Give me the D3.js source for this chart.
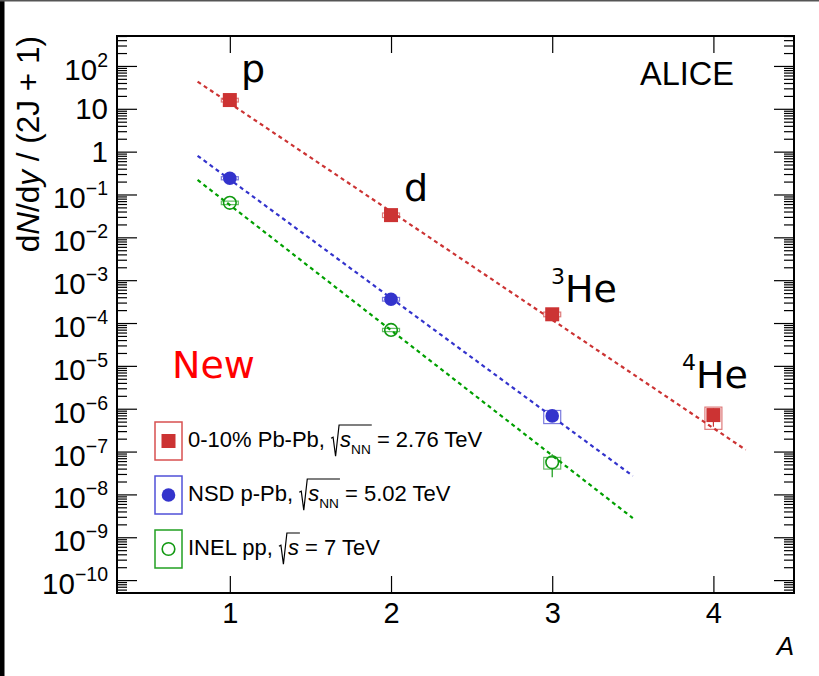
<!DOCTYPE html>
<html>
<head>
<meta charset="utf-8">
<script src="https://cdn.jsdelivr.net/npm/d3@7"></script>
<style>
  body { margin: 0; background: #fff; }
  svg { display: block; }
  text { white-space: pre; }
</style>
</head>
<body>
<div id="chart"></div>
<script>
// mass number on x
var massNumbers = [1, 2, 3, 4];

// 0-10% Pb-Pb 2.76 TeV: p, d, 3He, 4He
var pbpbYield = [16, 0.033, 1.6e-4, 7.1e-7];
var pbpbStat  = [0.15, 0.0006, 0.08e-4, 3.3e-7];
var pbpbSyst  = [1.6, 0.004, 0.2e-4, 3.8e-7];

// NSD p-Pb 5.02 TeV: p, d, 3He
var ppbYield = [0.24, 3.6e-4, 6.8e-7];
var ppbStat  = [0.004, 0.1e-4, 0.6e-7];
var ppbSyst  = [0.02, 0.35e-4, 2.3e-7];

// INEL pp 7 TeV: p, d, 3He
var ppYield = [0.064, 6.9e-5, 5.6e-8];
var ppStat  = [0.001, 0.2e-5, 3.1e-8];
var ppSyst  = [0.006, 0.6e-5, 1.7e-8];

// exponential fits (end points)
var pbpbFitA = [0.8, 4.2],  pbpbFitY = [43, 1.1e-7];
var ppbFitA  = [0.8, 3.5],  ppbFitY  = [0.80, 2.7e-8];
var ppFitA   = [0.8, 3.5],  ppFitY   = [0.218, 2.8e-9];

var particleNames = ["p", "d", "He", "He"];
var particleSup   = ["", "", "3", "4"];

var legendLabels = [
  [{t: "0-10% Pb-Pb, "}, {rad: true}, {t: "s", it: true}, {t: "NN", sub: true}, {radEnd: true}, {t: " = 2.76 TeV"}],
  [{t: "NSD p-Pb, "}, {rad: true}, {t: "s", it: true}, {t: "NN", sub: true}, {radEnd: true}, {t: " = 5.02 TeV"}],
  [{t: "INEL pp, "}, {rad: true}, {t: "s", it: true}, {radEnd: true}, {t: " = 7 TeV"}]
];

var yMajor = d3.range(-10, 3).map(function (k) { return Math.pow(10, k); });
var xTicks = [1, 2, 3, 4];

var red = "#cc3333", blue = "#3333cc", green = "#119911";

var W = 819, H = 676;
var svg = d3.select("#chart").append("svg").attr("width", W).attr("height", H);
svg.append("rect").attr("width", W).attr("height", H).attr("fill", "#fff");
// frame of the screenshot
svg.append("rect").attr("x", 0).attr("y", 0).attr("width", 4.5).attr("height", H).attr("fill", "#000");
svg.append("rect").attr("x", 0).attr("y", 0).attr("width", W).attr("height", 1.5).attr("fill", "#555");

var padL = 117, padR = 794, padT = 36, padB = 593;
var x = d3.scaleLinear().domain([0.3, 4.5]).range([padL, padR]);
var y = d3.scaleLog().domain([5e-11, 500]).range([padB, padT]);

var yMinor = [];
for (var k = -11; k <= 2; k++) {
  for (var m = 2; m <= 9; m++) {
    var v = m * Math.pow(10, k);
    if (v >= 5e-11 && v <= 500) yMinor.push(v);
  }
}

// text helper: runs of text with italics, sub/superscripts and a drawn radical
function richText(parent, x0, y0, segs, opt) {
  opt = opt || {};
  var size = opt.size || 22;
  var g = parent.append("g")
    .attr("font-family", opt.family || "'Liberation Sans', Arial, sans-serif")
    .attr("fill", opt.fill || "#000");
  var cx = 0, radStart = null, rads = [];
  segs.forEach(function (s) {
    if (s.rad) { radStart = cx; cx += 9; return; }
    if (s.radEnd) { rads.push([radStart, cx + 1]); return; }
    var fs = s.size || (s.sub || s.sup ? size * 0.62 : size);
    var dy = s.dy != null ? s.dy : (s.sub ? size * 0.3 : 0);
    var t = g.append("text").attr("x", cx).attr("y", dy)
      .attr("font-size", fs).text(s.t);
    if (s.it) t.attr("font-style", "italic");
    cx += t.node().getComputedTextLength();
  });
  rads.forEach(function (r) {
    var a = r[0], h = size * 1.0;
    g.append("path")
      .attr("d", "M" + (a) + "," + (-size * 0.4) + " L" + (a + 2) + "," + (-size * 0.45) +
        " L" + (a + 4.5) + "," + (size * 0.42) + " L" + (a + 8) + "," + (-h) + " L" + r[1] + "," + (-h))
      .attr("fill", "none").attr("stroke", opt.fill || "#000").attr("stroke-width", 1.2);
  });
  var shift = opt.anchor === "end" ? -cx : opt.anchor === "middle" ? -cx / 2 : 0;
  g.attr("transform", "translate(" + (x0 + shift) + "," + y0 + ")");
  return g;
}

// axes (ticks pointing inward)
svg.append("g").attr("transform", "translate(" + padL + ",0)")
  .call(d3.axisLeft(y).tickValues(yMajor).tickSize(-20).tickSizeOuter(0).tickFormat(""));
svg.append("g").attr("transform", "translate(" + padL + ",0)")
  .call(d3.axisLeft(y).tickValues(yMinor).tickSize(-10).tickSizeOuter(0).tickFormat(""));
svg.append("g").attr("transform", "translate(" + padR + ",0)")
  .call(d3.axisRight(y).tickValues(yMajor).tickSize(-20).tickSizeOuter(0).tickFormat(""));
svg.append("g").attr("transform", "translate(" + padR + ",0)")
  .call(d3.axisRight(y).tickValues(yMinor).tickSize(-10).tickSizeOuter(0).tickFormat(""));
svg.append("g").attr("transform", "translate(0," + padT + ")")
  .call(d3.axisTop(x).tickValues(xTicks).tickSize(-17).tickSizeOuter(0).tickFormat(""));
var xAxis = svg.append("g").attr("transform", "translate(0," + padB + ")")
  .call(d3.axisBottom(x).tickValues(xTicks).tickSize(-17).tickSizeOuter(0).tickPadding(9).tickFormat(d3.format("d")));
xAxis.selectAll("text").attr("font-size", 29).attr("font-family", "'Liberation Sans', Arial, sans-serif").attr("fill", "#000");
svg.selectAll(".domain").remove();
svg.selectAll(".tick line").attr("stroke", "#000").attr("stroke-width", 1.2);

svg.append("rect").attr("x", padL).attr("y", padT).attr("width", padR - padL).attr("height", padB - padT)
  .attr("fill", "none").attr("stroke", "#000").attr("stroke-width", 2);

// y tick labels
yMajor.forEach(function (v) {
  var k = Math.round(Math.log10(v));
  var yy = y(v);
  if (k === 0 || k === 1) {
    richText(svg, 108, yy + 10.5, [{t: k === 0 ? "1" : "10"}], {size: 29.5, anchor: "end"});
  } else {
    richText(svg, 108, yy + 14, [{t: "10"}, {t: (k < 0 ? "\u2212" : "") + Math.abs(k), size: 19.5, dy: -13}], {size: 29.5, anchor: "end"});
  }
});

// axis titles
var yTitle = svg.append("text")
  .attr("transform", "translate(39," + padT + ") rotate(-90)")
  .attr("text-anchor", "end")
  .attr("font-family", "'Liberation Sans', Arial, sans-serif")
  .attr("font-size", 31.5);
yTitle.append("tspan").text("d");
yTitle.append("tspan").attr("font-style", "italic").text("N");
yTitle.append("tspan").text("/d");
yTitle.append("tspan").attr("font-style", "italic").text("y");
yTitle.append("tspan").text(" / (2J + 1)");

svg.append("text").attr("x", padR).attr("y", 655).attr("text-anchor", "end")
  .attr("font-family", "'Liberation Sans', Arial, sans-serif").attr("font-size", 26)
  .attr("font-style", "italic").text("A");

svg.append("text").attr("x", 640).attr("y", 85)
  .attr("font-family", "'Liberation Sans', Arial, sans-serif").attr("font-size", 32.5).text("ALICE");

svg.append("text").attr("x", 172).attr("y", 378).attr("fill", "#ff0000")
  .attr("font-family", "'DejaVu Sans', sans-serif").attr("font-size", 38).text("New");

// particle labels
var labelPos = [[241, 82], [404, 201], [551, 302], [682, 388]];
particleNames.forEach(function (n, i) {
  var segs = [];
  if (particleSup[i]) segs.push({t: particleSup[i], size: 22, dy: -18});
  segs.push({t: n});
  richText(svg, labelPos[i][0], labelPos[i][1], segs, {size: 38, family: "'DejaVu Sans', sans-serif"});
});

// fit lines
var line = d3.line().x(function (d) { return x(d[0]); }).y(function (d) { return y(d[1]); });
[[pbpbFitA, pbpbFitY, red], [ppbFitA, ppbFitY, blue], [ppFitA, ppFitY, "#00a000"]].forEach(function (f) {
  svg.append("path").attr("d", line(d3.zip(f[0], f[1])))
    .attr("fill", "none").attr("stroke", f[2]).attr("stroke-width", 2.2).attr("stroke-dasharray", "4,3.5");
});

// data points
function drawSeries(vals, stat, syst, color, marker) {
  var g = svg.append("g");
  var pts = vals.map(function (v, i) { return {a: massNumbers[i], v: v, st: stat[i], sy: syst[i]}; });
  g.selectAll("rect.sys").data(pts).enter().append("rect")
    .attr("x", function (d) { return x(d.a) - 8.5; })
    .attr("y", function (d) { return y(d.v + d.sy); })
    .attr("width", 17)
    .attr("height", function (d) { return y(d.v - d.sy) - y(d.v + d.sy); })
    .attr("fill", "none").attr("stroke", color).attr("stroke-opacity", 0.65).attr("stroke-width", 1.2);
  pts.forEach(function (d) {
    var cy = y(d.v), up = y(d.v + d.st), dn = y(d.v - d.st);
    if (cy - up > 6.5) g.append("line").attr("x1", x(d.a)).attr("x2", x(d.a)).attr("y1", up).attr("y2", cy - 6.5)
      .attr("stroke", color).attr("stroke-width", 1.2);
    if (dn - cy > 6.5) g.append("line").attr("x1", x(d.a)).attr("x2", x(d.a)).attr("y1", cy + 6.5).attr("y2", dn)
      .attr("stroke", color).attr("stroke-width", 1.2);
  });
  pts.forEach(function (d) { marker(g, x(d.a), y(d.v)); });
}
function square(color) {
  return function (g, cx, cy) {
    g.append("rect").attr("x", cx - 7).attr("y", cy - 7).attr("width", 14).attr("height", 14).attr("fill", color);
  };
}
function disc(color) {
  return function (g, cx, cy) { g.append("circle").attr("cx", cx).attr("cy", cy).attr("r", 6.8).attr("fill", color); };
}
function ring(color) {
  return function (g, cx, cy) {
    g.append("circle").attr("cx", cx).attr("cy", cy).attr("r", 6.3).attr("fill", "none")
      .attr("stroke", color).attr("stroke-width", 1.6);
  };
}
drawSeries(pbpbYield, pbpbStat, pbpbSyst, red, square(red));
drawSeries(ppbYield, ppbStat, ppbSyst, blue, disc(blue));
drawSeries(ppYield, ppStat, ppSyst, green, ring(green));

// legend
var legendBorders = ["#d85050", "#5050d8", "#22a022"];
var legendMarkers = [square(red), disc(blue), ring(green)];
legendLabels.forEach(function (segs, i) {
  var cy = 441 + i * 54;
  svg.append("rect").attr("x", 155).attr("y", cy - 19).attr("width", 27).attr("height", 38)
    .attr("fill", "none").attr("stroke", legendBorders[i]).attr("stroke-width", 1.5);
  legendMarkers[i](svg, 168.5, cy);
  richText(svg, 188, cy + 6, segs, {size: 22});
});
</script>
</body>
</html>
